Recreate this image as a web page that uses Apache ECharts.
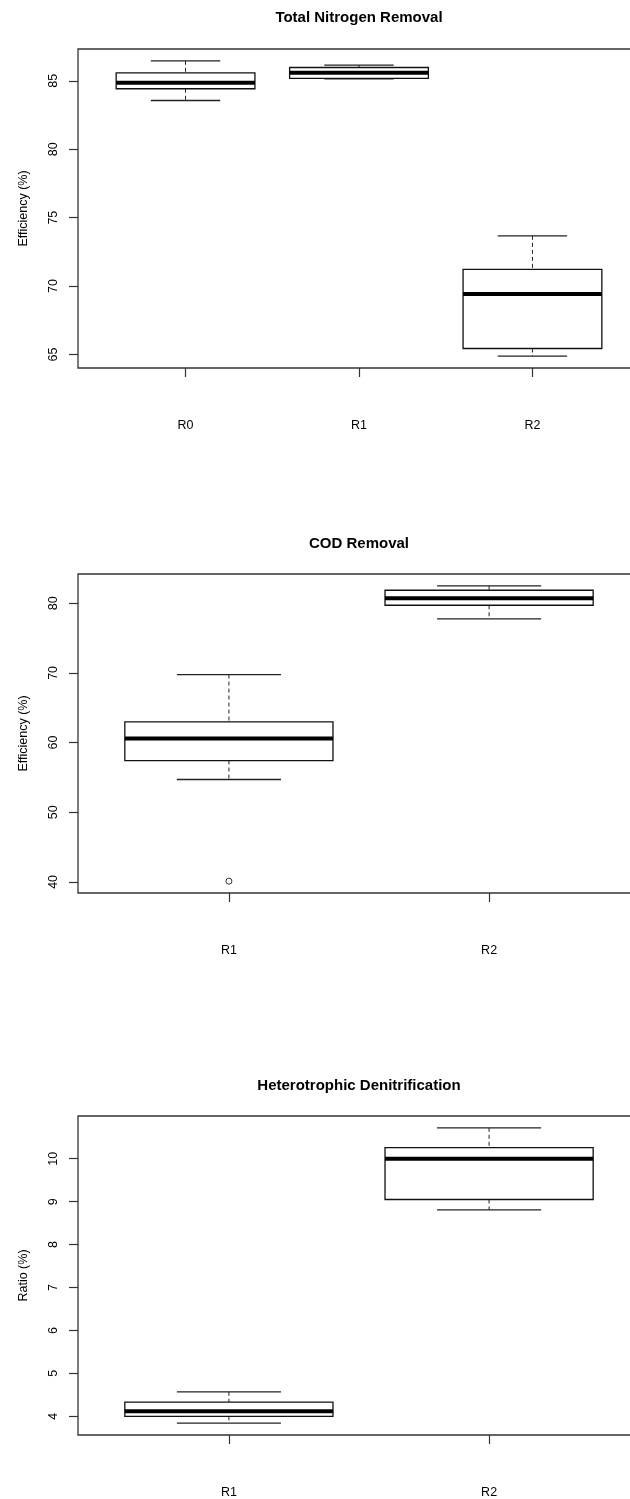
<!DOCTYPE html>
<html>
<head>
<meta charset="utf-8">
<script src="https://cdn.jsdelivr.net/npm/echarts@6/dist/echarts.min.js"></script>
<style>
  html, body { margin: 0; padding: 0; background: #fff; }
  #chart { width: 630px; height: 1499px; }
</style>
</head>
<body>
<div id="chart"></div>
<script>
// ---- Data ----
const panelTitles = ['Total Nitrogen Removal', 'COD Removal', 'Heterotrophic Denitrification'];
const yAxisNames = ['Efficiency (%)', 'Efficiency (%)', 'Ratio (%)'];

// Panel 1: Total Nitrogen Removal
const tnCategories = ['R0', 'R1', 'R2'];
const tnMin    = [83.56, 85.15, 64.88];
const tnQ1     = [84.42, 85.17, 65.44];
const tnMedian = [84.85, 85.58, 69.42];
const tnQ3     = [85.58, 85.97, 71.22];
const tnMax    = [86.46, 86.15, 73.67];
const tnOutlierGroup = [];
const tnOutlierValue = [];
const tnYTicks = [65, 70, 75, 80, 85];

// Panel 2: COD Removal
const codCategories = ['R1', 'R2'];
const codMin    = [54.70, 77.76];
const codQ1     = [57.42, 79.71];
const codMedian = [60.57, 80.72];
const codQ3     = [62.97, 81.86];
const codMax    = [69.76, 82.50];
const codOutlierGroup = ['R1'];
const codOutlierValue = [40.1];
const codYTicks = [40, 50, 60, 70, 80];

// Panel 3: Heterotrophic Denitrification
const hdCategories = ['R1', 'R2'];
const hdMin    = [3.84, 8.81];
const hdQ1     = [4.00, 9.05];
const hdMedian = [4.12, 10.00];
const hdQ3     = [4.33, 10.26];
const hdMax    = [4.57, 10.72];
const hdOutlierGroup = [];
const hdOutlierValue = [];
const hdYTicks = [4, 5, 6, 7, 8, 9, 10];

// ---- Build option ----
const FONT = '"Liberation Sans", Arial, Helvetica, sans-serif';
const panels = [
  { cats: tnCategories, min: tnMin, q1: tnQ1, med: tnMedian, q3: tnQ3, max: tnMax, og: tnOutlierGroup, ov: tnOutlierValue, ticks: tnYTicks },
  { cats: codCategories, min: codMin, q1: codQ1, med: codMedian, q3: codQ3, max: codMax, og: codOutlierGroup, ov: codOutlierValue, ticks: codYTicks },
  { cats: hdCategories, min: hdMin, q1: hdQ1, med: hdMedian, q3: hdQ3, max: hdMax, og: hdOutlierGroup, ov: hdOutlierValue, ticks: hdYTicks }
];
const gridTops = [49, 574, 1116];
const titleTops = [10, 536, 1078];
const GRID_H = 319;

const option = {
  animation: false,
  backgroundColor: '#fff',
  title: [], grid: [], xAxis: [], yAxis: [], series: []
};

function renderBox(params, api) {
  const x = api.value(0);
  const vMin = api.value(1), vQ1 = api.value(2), vMed = api.value(3), vQ3 = api.value(4), vMax = api.value(5);
  const cx = api.coord([x, vMed])[0];
  const left = api.coord([x - 0.4, vMed])[0];
  const right = api.coord([x + 0.4, vMed])[0];
  const capL = api.coord([x - 0.2, vMed])[0];
  const capR = api.coord([x + 0.2, vMed])[0];
  const yMin = api.coord([x, vMin])[1];
  const yQ1 = api.coord([x, vQ1])[1];
  const yMed = api.coord([x, vMed])[1];
  const yQ3 = api.coord([x, vQ3])[1];
  const yMax = api.coord([x, vMax])[1];
  const dash = { stroke: '#222', lineWidth: 1, lineDash: [4, 3] };
  const solid = { stroke: '#222', lineWidth: 1.3 };
  return {
    type: 'group',
    children: [
      { type: 'line', shape: { x1: cx, y1: yMax, x2: cx, y2: yQ3 }, style: dash },
      { type: 'line', shape: { x1: cx, y1: yQ1, x2: cx, y2: yMin }, style: dash },
      { type: 'line', shape: { x1: capL, y1: yMax, x2: capR, y2: yMax }, style: solid },
      { type: 'line', shape: { x1: capL, y1: yMin, x2: capR, y2: yMin }, style: solid },
      { type: 'rect', shape: { x: left, y: yQ3, width: right - left, height: yQ1 - yQ3 },
        style: { fill: '#fff', stroke: '#111', lineWidth: 1.3 } },
      { type: 'line', shape: { x1: left, y1: yMed, x2: right, y2: yMed }, style: { stroke: '#000', lineWidth: 4 } }
    ]
  };
}

panels.forEach((p, i) => {
  const n = p.cats.length;
  const allVals = p.min.concat(p.max, p.ov);
  const lo = Math.min(...allVals), hi = Math.max(...allVals);
  const pad = 0.04 * (hi - lo);
  const xs = p.cats.map((_, k) => k + 1);

  option.title.push({
    text: panelTitles[i],
    left: 359, top: titleTops[i], textAlign: 'center', padding: 0,
    textStyle: { fontFamily: FONT, fontSize: 15, fontWeight: 'bold', color: '#000' }
  });
  option.grid.push({
    left: 78, top: gridTops[i], width: 562, height: GRID_H,
    show: true, borderColor: '#333', borderWidth: 1.3, backgroundColor: 'transparent',
    outerBoundsMode: 'none', containLabel: false
  });
  option.xAxis.push({
    type: 'value', gridIndex: i,
    min: 0.5 - 0.04 * n, max: n + 0.5 + 0.04 * n,
    axisLine: { show: false },
    splitLine: { show: false },
    axisTick: { show: true, length: 9, customValues: xs, lineStyle: { color: '#333', width: 1.2 } },
    axisLabel: {
      show: true, customValues: xs, margin: 51,
      formatter: (v) => p.cats[Math.round(v) - 1] || '',
      fontFamily: FONT, fontSize: 12.5, color: '#000'
    }
  });
  option.yAxis.push({
    type: 'value', gridIndex: i,
    min: lo - pad, max: hi + pad,
    name: yAxisNames[i], nameLocation: 'middle', nameGap: 48,
    nameTextStyle: { fontFamily: FONT, fontSize: 12.5, color: '#000' },
    axisLine: { show: false },
    splitLine: { show: false },
    axisTick: { show: true, length: 9, customValues: p.ticks, lineStyle: { color: '#333', width: 1.2 } },
    axisLabel: {
      show: true, customValues: p.ticks, rotate: 90, margin: 18,
      fontFamily: FONT, fontSize: 12.5, color: '#000'
    }
  });
  option.series.push({
    type: 'custom', xAxisIndex: i, yAxisIndex: i,
    renderItem: renderBox,
    encode: { x: 0, y: [1, 2, 3, 4, 5] },
    data: p.cats.map((c, k) => [k + 1, p.min[k], p.q1[k], p.med[k], p.q3[k], p.max[k]]),
    clip: false, silent: true
  });
  if (p.ov.length) {
    option.series.push({
      type: 'scatter', xAxisIndex: i, yAxisIndex: i,
      symbol: 'circle', symbolSize: 6,
      itemStyle: { color: '#fff', borderColor: '#000', borderWidth: 1 },
      data: p.ov.map((v, k) => [p.cats.indexOf(p.og[k]) + 1, v]),
      silent: true
    });
  }
});

const chart = echarts.init(document.getElementById('chart'), null, { renderer: 'canvas' });
chart.setOption(option);
</script>
</body>
</html>
